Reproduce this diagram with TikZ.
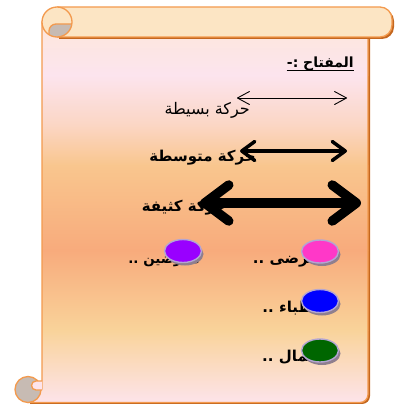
\documentclass[tikz,border=0pt]{standalone}
\usepackage{fontspec}
\usetikzlibrary{arrows.meta,shapes.geometric,shadows}
\TeXXeTstate=1
\newfontfamily\arabicfont[Script=Arabic]{DejaVu Sans}
\newcommand\artext[1]{\arabicfont\beginR #1\endR}

\definecolor{scrollline}{HTML}{F39A4E}
\definecolor{scrollshade}{HTML}{C4671F}
\definecolor{bandfill}{HTML}{FCE5C4}
\definecolor{curlgray}{HTML}{C7BBB3}
\definecolor{gA}{HTML}{FDE7DA}
\definecolor{gB}{HTML}{FCE4EE}
\definecolor{gC}{HTML}{FBD6C4}
\definecolor{gD}{HTML}{F9C68E}
\definecolor{gE}{HTML}{F8AB7C}
\definecolor{gF}{HTML}{F9D39A}
\definecolor{gG}{HTML}{FDE4EC}
\definecolor{ovalrim}{HTML}{B3A5D3}
\definecolor{ovalshadow}{HTML}{8F7F8E}
\definecolor{pinkdot}{HTML}{FF38C8}
\definecolor{violetdot}{HTML}{9900FF}
\definecolor{bluedot}{HTML}{0000FF}
\definecolor{greendot}{HTML}{006600}

\tikzset{
  scrollstroke/.style={draw=scrollline, line width=1.3pt},
  label/.style={font=\fontsize{16}{18}\selectfont, inner sep=0pt, anchor=base east},
  boldlabel/.style={label, font=\fontsize{15}{17}\selectfont\bfseries},
  legendoval/.style={ellipse, minimum width=37pt, minimum height=23pt, inner sep=0pt,
    draw=ovalrim, line width=1.4pt,
    drop shadow={shadow xshift=2pt, shadow yshift=-3pt, fill=ovalshadow, opacity=1}},
  thinarrow/.style={line width=0.9pt, {Straight Barb[length=12pt,width=13pt,round]}-{Straight Barb[length=12pt,width=13pt,round]}},
  midarrow/.style={line width=3.5pt, {Straight Barb[length=13pt,width=19pt,round]}-{Straight Barb[length=13pt,width=19pt,round]}},
  heavyarrow/.style={line width=9.5pt, {Straight Barb[length=24pt,width=36pt,round]}-{Straight Barb[length=24pt,width=36pt,round]}},
}

\begin{document}
\begin{tikzpicture}[x=1pt,y=-1pt]
\useasboundingbox (0,0) rectangle (395,404);

% ---- scroll body ----
\def\bodypath{(42,22) -- (42,389) -- (28,389) -- (28,402.5) -- (360,402.5)
  .. controls (364.4,402.5) and (368,398.9) .. (368,394.5) -- (368,28) -- cycle}
\fill[scrollshade] [shift={(2,1.5)}] \bodypath;
\begin{scope}
  \clip \bodypath;
  \shade[top color=gA, bottom color=gB] (20,20) rectangle (370,75.5);
  \shade[top color=gB, bottom color=gC] (20,75) rectangle (370,125.5);
  \shade[top color=gC, bottom color=gD] (20,125) rectangle (370,165.5);
  \shade[top color=gD, bottom color=gE] (20,165) rectangle (370,250.5);
  \shade[top color=gE, bottom color=gF] (20,250) rectangle (370,330.5);
  \shade[top color=gF, bottom color=gG] (20,330) rectangle (370,404);
\end{scope}
\draw[scrollstroke] \bodypath;

% ---- rolled top band ----
\def\bandpath{(57,7) -- (392,7) -- (392,37) -- (57,37)}
\fill[scrollshade, rounded corners=12pt] [shift={(2,2)}] \bandpath;
\fill[bandfill, rounded corners=12pt] \bandpath;
\draw[scrollstroke, rounded corners=12pt] \bandpath;

% top-left roll end
\fill[bandfill] (57,22) circle[radius=15];
\begin{scope}
  \clip (57,22) circle[radius=15];
  \filldraw[fill=curlgray, scrollstroke, rounded corners=7pt] (49,24) rectangle (85,45);
\end{scope}
\draw[scrollstroke] (57,22) circle[radius=15];

% bottom-left roll end
\filldraw[fill=curlgray, scrollstroke] (28,389.5) circle[radius=13];
\filldraw[fill=gG, scrollstroke] (42,381) -- (36,381)
  .. controls (33.5,381) and (31.5,383) .. (31.5,385.5)
  .. controls (31.5,388) and (33.5,390) .. (36,390) -- (42,390);

% ---- legend title ----
\node[boldlabel, font=\fontsize{14}{16}\selectfont\bfseries] (title) at (354,67) {\artext{المفتاح :-}};
\draw[line width=0.9pt] ([yshift=-3.5pt]title.base west) -- ([yshift=-3.5pt]title.base east);

% ---- movement levels ----
\node[label] (light) at (250,114) {\artext{حركة بسيطة}};
\coordinate (lightL) at (237,98);
\coordinate (lightR) at (347,98);
\draw[thinarrow] (lightL) -- (lightR);

\node[boldlabel] (medium) at (256,161) {\artext{حركة متوسطة}};
\coordinate (mediumL) at (240,151);
\coordinate (mediumR) at (347,151);
\draw[midarrow] (mediumL) -- (mediumR);

\node[boldlabel] (heavy) at (226,211) {\artext{حركة كثيفة}};
\coordinate (heavyL) at (200,203);
\coordinate (heavyR) at (361,203);
\draw[heavyarrow] (heavyL) -- (heavyR);

% ---- people ----
\node[boldlabel] (patients) at (318,263) {\artext{مرضى ..}};
\node[boldlabel, font=\fontsize{13.5}{16}\selectfont\bfseries] (nurses) at (200,263) {\artext{ممرضين ..}};
\node[boldlabel] (doctors) at (318,312) {\artext{أطباء ..}};
\node[boldlabel] (workers) at (318,361) {\artext{عمال ..}};

\node[legendoval, fill=pinkdot] (patientsdot) at (320,251.5) {};
\node[legendoval, fill=violetdot] (nursesdot) at (183,251) {};
\node[legendoval, fill=bluedot] (doctorsdot) at (320,301) {};
\node[legendoval, fill=greendot] (workersdot) at (320,350.5) {};
\end{tikzpicture}
\end{document}
